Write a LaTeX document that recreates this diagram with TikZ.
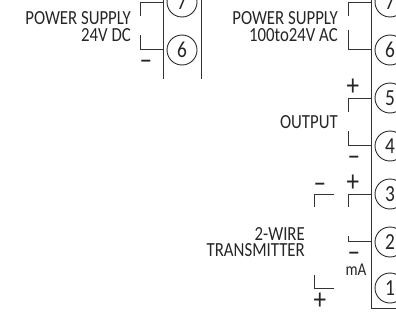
\documentclass[tikz,border=0pt]{standalone}
\usepackage{fontspec}
\setmainfont[FakeStretch=0.84]{Carlito}
\begin{document}
\begin{tikzpicture}[x=1pt, y=-1pt]
        \tikzstyle{wire} = [draw, black!80, line width=0.9pt]
        \tikzstyle{term} = [draw, black!85, line width=0.9pt, circle, minimum size=30pt, inner sep=0pt, font=\fontsize{23}{23}\selectfont]
        \tikzstyle{lbl} = [anchor=east, inner sep=0pt, text=black!85, font=\fontsize{20}{20}\selectfont]
        \tikzstyle{sign} = [inner sep=0pt, text=black!85, font=\fontsize{30}{30}\selectfont]
        
        \path[use as bounding box, clip] (0, 0) rectangle (396, 321);
        
        % left module
        \node[term] (left 7) at (182, 2) {7};
        \node[term] (left 6) at (182, 50) {6};
        \coordinate (left bar top) at (163, -5);
        \coordinate (left bar end) at (163, 79);
        \coordinate (left edge top) at (201, -5);
        \coordinate (left edge end) at (201, 79);
        \coordinate (left 7 pin) at (163, 2.5);
        \coordinate (left 6 pin) at (163, 49);
        \node[lbl] (left supply) at (131, 18) {POWER SUPPLY};
        \node[lbl] (left volts) at (131, 35) {24V DC};
        \node[sign] (left minus) at (146, 65) {--};
        
        \path[wire] (left bar top) to (left bar end);
        \path[wire] (left edge top) to (left edge end);
        \path[wire] (left 7 pin) -- (140, 2.5) -- (140, 16);
        \path[wire] (left 6 pin) -- (140, 49) -- (140, 35);
        
        % right module
        \node[term] (right 7) at (390, 2) {7};
        \node[term] (right 6) at (390, 50) {6};
        \node[term] (right 5) at (390, 98) {5};
        \node[term] (right 4) at (390, 146) {4};
        \node[term] (right 3) at (390, 194) {3};
        \node[term] (right 2) at (390, 242) {2};
        \node[term] (right 1) at (390, 288) {1};
        \coordinate (right bar top) at (371, -5);
        \coordinate (right bar end) at (371, 308);
        \coordinate (right corner) at (400, 308);
        \coordinate (right 7 pin) at (371, 2.5);
        \coordinate (right 6 pin) at (371, 49);
        \coordinate (right 5 pin) at (371, 98);
        \coordinate (right 4 pin) at (371, 145);
        \coordinate (right 3 pin) at (371, 194);
        \coordinate (right 2 pin) at (371, 241);
        \node[lbl] (right supply) at (338, 18) {POWER SUPPLY};
        \node[lbl] (right volts) at (338, 35) {100to24V AC};
        \node[lbl] (output) at (338, 122) {OUTPUT};
        \node[lbl] (two wire) at (305, 234) {2-WIRE};
        \node[lbl] (transmitter) at (305, 250) {TRANSMITTER};
        \node[sign] (output plus) at (353, 87) {+};
        \node[sign] (output minus) at (354, 161) {--};
        \node[sign] (input plus) at (353, 183) {+};
        \node[sign] (input minus) at (354, 257) {--};
        \node[sign] (sensor minus) at (320, 188) {--};
        \node[sign] (sensor plus) at (320, 301) {+};
        \node[lbl, anchor=center, font=\fontsize{18}{18}\selectfont] (ma) at (356, 270) {mA};
        
        \path[wire] (right bar top) to (right bar end) to (right corner);
        \path[wire] (right 7 pin) -- (348, 2.5) -- (348, 16);
        \path[wire] (right 6 pin) -- (348, 49) -- (348, 30);
        \path[wire] (right 5 pin) -- (348, 98) -- (348, 112);
        \path[wire] (right 4 pin) -- (348, 145) -- (348, 131);
        \path[wire] (right 3 pin) -- (348, 194) -- (348, 207);
        \path[wire] (right 2 pin) -- (348, 241) -- (348, 236);
        \path[wire] (334, 194) -- (314, 194) -- (314, 207);
        \path[wire] (334, 288) -- (314, 288) -- (314, 275);
    \end{tikzpicture}
\end{document}
